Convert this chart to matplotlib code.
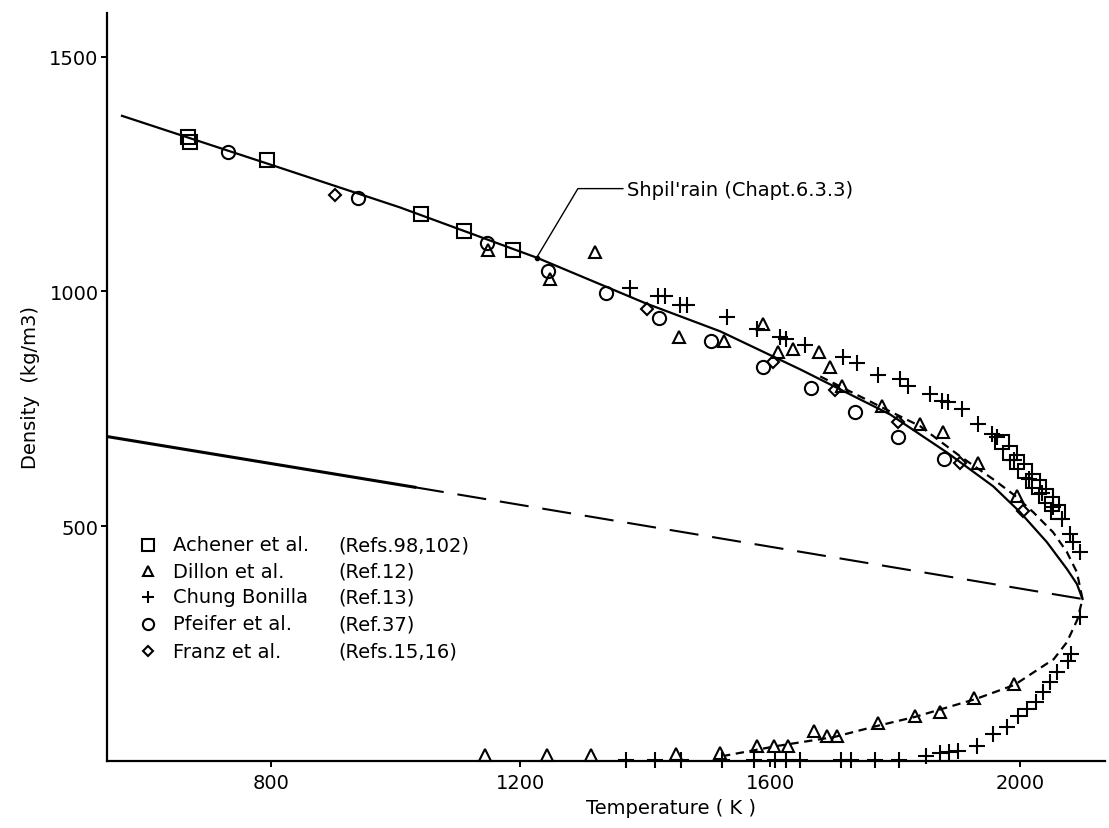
import numpy as np
import matplotlib
matplotlib.use("Agg")
import matplotlib.pyplot as plt

plt.rcParams['font.family'] = ['DejaVu Sans']
plt.rcParams['font.size'] = 14
plt.rcParams['lines.scale_dashes'] = False

# liquid / vapour data (T in K, rho in kg/m3)
achener_T = [668, 671, 794, 1041, 1110, 1188, 1971, 1984, 1995, 2008, 2020, 2030, 2041, 2051, 2060]
achener_rho = [1328, 1319, 1279, 1164, 1128, 1089, 679, 657, 636, 617, 596, 583, 564, 547, 530]

dillon_T = [1148, 1247, 1320, 1454, 1526, 1588, 1613, 1637, 1678, 1696, 1715, 1779, 1840, 1877, 1932, 1995,
            1143, 1243, 1313, 1449, 1520, 1579, 1606, 1629, 1670, 1691, 1707, 1772, 1832, 1872, 1926, 1990]
dillon_rho = [1089, 1026, 1085, 904, 894, 930, 872, 877, 870, 840, 798, 757, 717, 700, 634, 564,
              12, 12, 13, 15, 17, 32, 32, 32, 64, 53, 53, 81, 96, 104, 134, 164]

chung_T = [1375, 1420, 1431, 1456, 1467, 1531, 1579, 1616, 1626, 1656, 1717, 1739, 1773, 1808, 1821,
           1856, 1875, 1885, 1907, 1932, 1955, 1963, 1990, 2015, 2035, 2052, 2067, 2080, 2084, 2096,
           1369, 1415, 1457, 1523, 1574, 1608, 1625, 1648, 1713, 1730, 1767, 1806,
           1850, 1872, 1886, 1900, 1931, 1956, 1979, 1997, 2011, 2025, 2037, 2048, 2059, 2077, 2082, 2096]
chung_rho = [1008, 990, 990, 972, 972, 945, 919, 902, 898, 887, 860, 847, 823, 813, 798,
             781, 766, 764, 749, 717, 696, 689, 640, 600, 570, 540, 515, 483, 466, 445,
             2, 2, 2, 2, 2, 2, 2, 2, 2, 2, 2, 2,
             11, 17, 19, 21, 32, 57, 72, 96, 111, 126, 147, 168, 189, 213, 228, 306]

pfeifer_T = [732, 940, 1146, 1244, 1337, 1422, 1505, 1589, 1665, 1736, 1805, 1878]
pfeifer_rho = [1298, 1198, 1104, 1043, 996, 943, 894, 840, 794, 743, 689, 643]

franz_T = [903, 1403, 1605, 1704, 1805, 1904, 2005]
franz_rho = [1206, 962, 849, 791, 723, 634, 532]

# Shpil'rain liquid curve
shp_T = [562, 800, 1007, 1226, 1400, 1520, 1648, 1792, 1883, 1957, 2000, 2043, 2075, 2091, 2100]
shp_rho = [1374, 1270, 1179, 1072, 975, 915, 834, 738, 657, 585, 530, 466, 409, 377, 345]

# rectilinear diameter (solid part, then dashed to critical point)
diam_T = [538, 1031, 2100]
diam_rho = [691, 583, 345]

# coexistence curve through the high temperature data
coex_T = [1680, 1776, 1840, 1904, 1957, 1989, 2021, 2053, 2075, 2091, 2100,
          2092, 2075, 2054, 1991, 1929, 1832, 1769, 1702, 1611, 1526]
coex_rho = [819, 755, 713, 649, 600, 568, 530, 487, 445, 402, 345,
            302, 253, 217, 162, 132, 94, 74, 51, 32, 11]

legend_names = ['Achener et al.', 'Dillon et al.', 'Chung Bonilla', 'Pfeifer et al.', 'Franz et al.']
legend_refs = ['(Refs.98,102)', '(Ref.12)', '(Ref.13)', '(Ref.37)', '(Refs.15,16)']

fig = plt.figure(figsize=(11.09, 8.29), dpi=100)
ax = fig.add_axes([107/1109, 67/829, 998/1109, 748/829])

ax.plot(shp_T, shp_rho, color='black', lw=1.6)
ax.plot(diam_T[:2], diam_rho[:2], color='black', lw=2.2)
ax.plot(diam_T[1:], diam_rho[1:], color='black', lw=1.5, dashes=(21, 10))
ax.plot(coex_T, coex_rho, color='black', lw=1.6, dashes=(6, 4))

mk = dict(ls='none', color='black', mfc='none', mew=1.5, clip_on=False)
styles = [('s', 9.5), ('^', 8.5), ('+', 11), ('o', 9.5), ('D', 5.8)]
sets = [(achener_T, achener_rho), (dillon_T, dillon_rho), (chung_T, chung_rho),
        (pfeifer_T, pfeifer_rho), (franz_T, franz_rho)]
for (m, s), (t, r) in zip(styles, sets):
    ax.plot(t, r, marker=m, ms=s, **mk)

# hand made legend
rows_y = [0.2888, 0.254, 0.2193, 0.1832, 0.147]
for (m, s), name, ref, yy in zip(styles, legend_names, legend_refs, rows_y):
    ax.plot([0.0411], [yy], marker=m, ms=s*0.85, transform=ax.transAxes, **mk)
    ax.text(0.0661, yy, name, transform=ax.transAxes, va='center', ha='left')
    ax.text(0.2315, yy, ref, transform=ax.transAxes, va='center', ha='left')

# label for Shpil'rain curve
ax.plot([1226, 1292, 1364], [1072, 1219, 1219], color='black', lw=1.0)
ax.plot([1226], [1072], marker='o', ms=3, color='black')
ax.text(1370, 1217, "Shpil'rain (Chapt.6.3.3)", va='center', ha='left')

ax.set_xlim(538, 2136)
ax.set_ylim(0, 1593)
ax.set_xticks([800, 1200, 1600, 2000])
ax.set_yticks([500, 1000, 1500])
ax.spines['top'].set_visible(False)
ax.spines['right'].set_visible(False)
ax.spines['left'].set_linewidth(1.6)
ax.spines['bottom'].set_linewidth(1.6)
ax.tick_params(direction='out', length=4.5, width=1.4, labelsize=14)
ax.tick_params(axis='x', pad=4)
ax.tick_params(axis='y', pad=1.5)

ax.set_xlabel('Temperature ( K )', fontsize=14)
ax.set_ylabel('Density  (kg/m3)', fontsize=14)
ax.xaxis.set_label_coords(0.565, -0.05)
ax.yaxis.set_label_coords(-0.067, 0.5)

plt.savefig('out.png', dpi=100)
